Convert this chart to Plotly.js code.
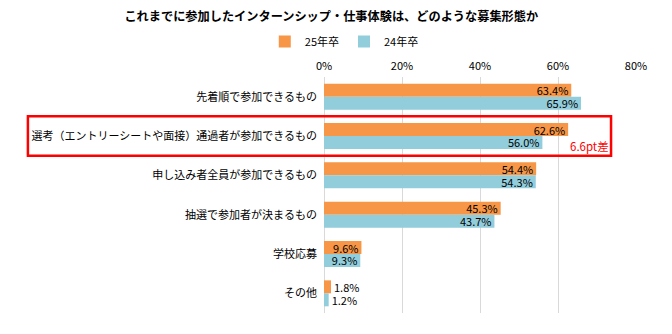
<!DOCTYPE html>
<html><head><meta charset="utf-8">
<script src="https://cdn.plot.ly/plotly-3.0.1.min.js"></script>
<style>body{margin:0;padding:0;background:#fff}#c{width:672px;height:334px}</style>
</head><body><div id="c"></div>
<script>
const categories = ["先着順で参加できるもの","選考（エントリーシートや面接）通過者が参加できるもの","申し込み者全員が参加できるもの","抽選で参加者が決まるもの","学校応募","その他"];
const series25 = [63.4, 62.6, 54.4, 45.3, 9.6, 1.8];
const series24 = [65.9, 56.0, 54.3, 43.7, 9.3, 1.2];
const tickVals = [0, 20, 40, 60, 80];
const tickText = ["0%", "20%", "40%", "60%", "80%"];

const F = '"Noto Sans CJK JP", "Noto Sans", sans-serif';
const pos = v => v.map(x => x < 5 ? 'outside' : 'inside');
const lbl = v => v.map(x => x.toFixed(1) + '%');

const t25 = {type:'bar', orientation:'h', name:'25年卒', y:categories, x:series25,
  marker:{color:'#F79646'}, text:lbl(series25), textposition:pos(series25),
  insidetextanchor:'end', constraintext:'none', cliponaxis:false,
  textfont:{color:'#000', size:11, family:F}, hoverinfo:'none'};
const t24 = {type:'bar', orientation:'h', name:'24年卒', y:categories, x:series24,
  marker:{color:'#92CDDC'}, text:lbl(series24), textposition:pos(series24),
  insidetextanchor:'end', constraintext:'none', cliponaxis:false,
  textfont:{color:'#000', size:11, family:F}, hoverinfo:'none'};

const diff = (series25[1] - series24[1]).toFixed(1) + 'pt差';

const layout = {
  width:672, height:334,
  margin:{l:323.5, r:36, t:77, b:21},
  paper_bgcolor:'#fff', plot_bgcolor:'#fff',
  font:{family:F, size:12, color:'#000'},
  title:{text:'<b>これまでに参加したインターンシップ・仕事体験は、どのような募集形態か</b>',
    font:{size:12.2, family:F, color:'#000'}, x:0.493, xanchor:'center', y:0.95, yanchor:'middle'},
  barmode:'group', bargap:0.34, bargroupgap:0,
  showlegend:true,
  legend:{orientation:'h', x:0.065, xanchor:'center', y:1.15, yanchor:'middle',
    font:{size:11, family:F}, itemwidth:30, traceorder:'normal', tracegroupgap:0},
  xaxis:{side:'top', range:[0,80], tickvals:tickVals, ticktext:tickText,
    showgrid:true, gridcolor:'#D9D9D9', gridwidth:1, zeroline:true, zerolinecolor:'#D9D9D9',
    tickfont:{size:11, family:F}, ticks:'', ticklabelstandoff:4, fixedrange:true},
  yaxis:{autorange:'reversed', tickfont:{size:11, family:F}, ticks:'', ticklabelstandoff:6,
    showline:false, fixedrange:true},
  shapes:[{type:'rect', xref:'paper', yref:'y', x0:-0.949, x1:0.92, y0:0.5, y1:1.5,
    line:{color:'#FF0000', width:2.5}, fillcolor:'rgba(0,0,0,0)'}],
  annotations:[{xref:'x', yref:'y', x:62.6, y:1.25, text:diff, showarrow:false,
    xanchor:'left', yanchor:'middle', font:{color:'#FF0000', size:11.5, family:F}}]
};
Plotly.newPlot('c', [t25, t24], layout, {displayModeBar:false, staticPlot:true});
</script></body></html>
